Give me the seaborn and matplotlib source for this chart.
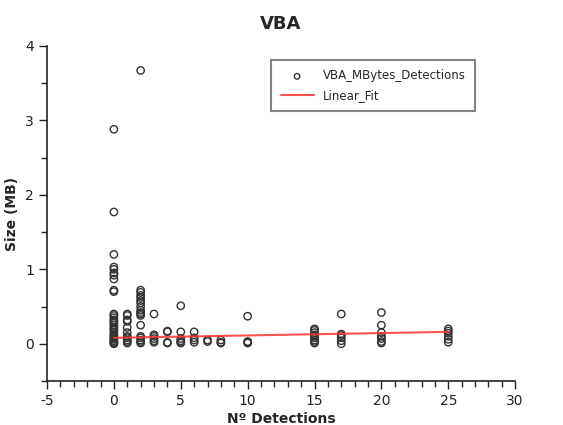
import numpy as np
import pandas as pd
import matplotlib
matplotlib.use("Agg")
import matplotlib.pyplot as plt
import seaborn as sns
from matplotlib.ticker import MultipleLocator

sns.set_style("ticks")
plt.rcParams['font.family'] = ['DejaVu Sans']
plt.rcParams['axes.unicode_minus'] = False

# detections and file sizes (MB)
det_0 = [2.88, 1.77, 1.20, 1.03, 1.00, 0.95, 0.92, 0.87, 0.72, 0.70,
         0.40, 0.38, 0.35, 0.32, 0.30, 0.28, 0.25, 0.22, 0.20, 0.18,
         0.15, 0.12, 0.10, 0.08, 0.06, 0.04, 0.02, 0.01, 0.00]
det_1 = [0.40, 0.38, 0.32, 0.30, 0.22, 0.15, 0.10, 0.08, 0.05, 0.03, 0.01]
det_2 = [3.67, 0.72, 0.69, 0.65, 0.62, 0.58, 0.55, 0.50, 0.45, 0.42,
         0.40, 0.38, 0.25, 0.10, 0.08, 0.05, 0.03, 0.01]
det_3 = [0.40, 0.12, 0.10, 0.07, 0.04, 0.02]
det_4 = [0.17, 0.16, 0.02, 0.01]
det_5 = [0.51, 0.16, 0.07, 0.04, 0.02, 0.01]
det_6 = [0.16, 0.08, 0.05, 0.02]
det_7 = [0.05, 0.03]
det_8 = [0.05, 0.02, 0.01]
det_10 = [0.37, 0.03, 0.02, 0.01]
det_15 = [0.20, 0.18, 0.15, 0.12, 0.10, 0.08, 0.05, 0.03, 0.01]
det_17 = [0.40, 0.13, 0.11, 0.08, 0.04, 0.00]
det_20 = [0.42, 0.25, 0.15, 0.10, 0.07, 0.03, 0.01]
det_25 = [0.20, 0.17, 0.14, 0.10, 0.06, 0.02]

groups = {0: det_0, 1: det_1, 2: det_2, 3: det_3, 4: det_4, 5: det_5,
          6: det_6, 7: det_7, 8: det_8, 10: det_10, 15: det_15,
          17: det_17, 20: det_20, 25: det_25}

# linear fit end points as drawn
fit_x = [0, 25]
fit_y = [0.08, 0.16]

rows = [(k, v) for k, vals in groups.items() for v in vals]
df = pd.DataFrame(rows, columns=['detections', 'size'])
fit_df = pd.DataFrame({'detections': fit_x, 'size': fit_y})

fig = plt.figure(figsize=(5.63, 4.25), dpi=100)
ax = fig.add_axes([0.0835, 0.1035, 0.8315, 0.7885])

sns.scatterplot(data=df, x='detections', y='size', ax=ax, marker='o',
                s=28, facecolor='none', edgecolor='#333333', linewidth=1.0,
                label='VBA_MBytes_Detections')
sns.lineplot(data=fit_df, x='detections', y='size', ax=ax,
             color='#ff3333', linewidth=1.5, alpha=0.85, label='Linear_Fit')

ax.set_xlim(-5, 30)
ax.set_ylim(-0.5, 4)
ax.xaxis.set_major_locator(MultipleLocator(5))
ax.xaxis.set_minor_locator(MultipleLocator(1))
ax.yaxis.set_major_locator(MultipleLocator(1))
ax.yaxis.set_minor_locator(MultipleLocator(0.5))
ax.tick_params(which='major', length=6, width=1, labelsize=10, colors='#222222')
ax.tick_params(which='minor', length=4, width=1)
sns.despine(ax=ax)
for s in ['left', 'bottom']:
    ax.spines[s].set_linewidth(1.2)
    ax.spines[s].set_color('#222222')

ax.set_xlabel('Nº Detections', fontsize=10, fontweight='bold', labelpad=3)
ax.set_ylabel('Size (MB)', fontsize=10, fontweight='bold', labelpad=4)
ax.set_title('VBA', fontsize=13, fontweight='bold', pad=12)

leg = ax.legend(loc='upper right', bbox_to_anchor=(0.915, 0.958), fontsize=8.5,
                fancybox=False, frameon=True, handlelength=2.8,
                borderpad=0.8, labelspacing=0.55, borderaxespad=0,
                markerscale=0.75)
leg.get_frame().set_edgecolor('#666666')
leg.get_frame().set_linewidth(1.5)

fig.savefig('out.png', dpi=100)
